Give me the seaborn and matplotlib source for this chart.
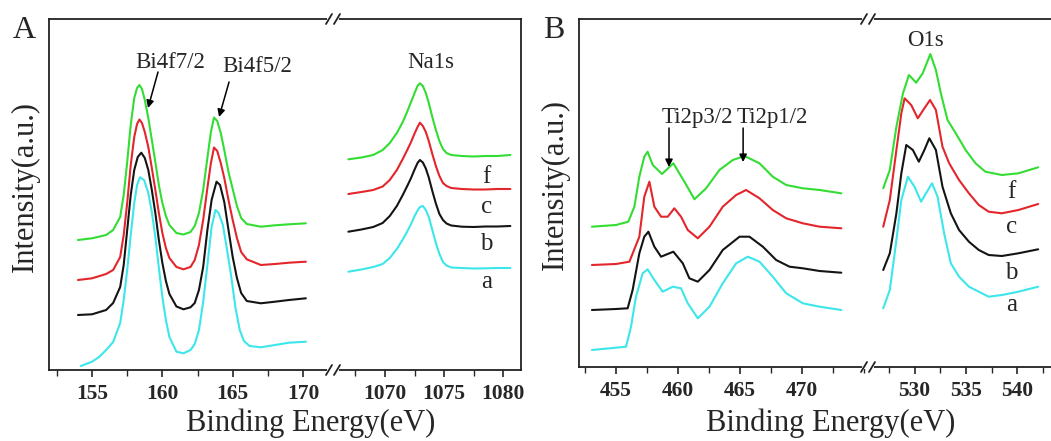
import numpy as np
import pandas as pd
import matplotlib
matplotlib.use('Agg')
import matplotlib.pyplot as plt
import seaborn as sns
from matplotlib.ticker import MultipleLocator
from matplotlib.lines import Line2D

# ---- Panel A, Bi 4f region (eV, intensity a.u.) ----
bi_f_e = [154.0, 155.0, 156.0, 156.5, 157.0, 157.25, 157.5, 157.75, 158.0, 158.2, 158.37, 158.55, 158.75,
          159.0, 159.25, 159.5, 159.75, 160.0, 160.25, 160.5, 161.0, 161.5, 162.0, 162.3, 162.6, 162.9,
          163.2, 163.45, 163.67, 163.9, 164.15, 164.4, 164.7, 165.0, 165.3, 165.6, 166.0, 167.0, 168.0,
          169.0, 170.2]
bi_f_i = [130, 131.7, 135, 140, 153, 175, 208, 245, 272, 282, 285, 281, 270,
          252, 230, 208, 185, 167, 154, 145, 137, 135.5, 138, 144, 157, 180,
          212, 238, 252.5, 249, 237, 220, 198, 181, 164, 152, 146, 143.3, 144.7,
          145.7, 146.7]
bi_c_e = bi_f_e
bi_c_i = [90, 91.7, 96, 100, 113, 135, 167, 205, 233, 246, 250.5, 247, 238,
          223, 202, 180, 157, 137, 122, 112, 103, 100.7, 103, 110, 125, 150,
          182, 207, 222.5, 219, 207, 192, 170, 150, 132, 118, 110.7, 105, 106,
          107.3, 108.3]
bi_b_e = [154.0, 155.0, 156.0, 156.5, 157.0, 157.25, 157.5, 157.75, 158.0, 158.25, 158.5, 158.75, 159.0,
          159.25, 159.5, 159.75, 160.0, 160.25, 160.5, 161.0, 161.5, 162.0, 162.3, 162.6, 162.9, 163.2,
          163.5, 163.85, 164.1, 164.4, 164.7, 165.0, 165.3, 165.6, 166.0, 167.0, 168.0, 169.0, 170.2]
bi_b_i = [55, 55.7, 60, 67, 83, 105, 140, 175, 200, 213, 217.3, 212, 200,
          180, 157, 130, 107, 89, 76, 63.5, 60.7, 62.7, 67, 80, 103, 140,
          170, 188.3, 185, 168, 140, 113, 92, 77, 69, 66.7, 68.3, 70, 71.7]
bi_a_e = [154.2, 155.0, 155.5, 156.0, 156.5, 157.0, 157.25, 157.5, 157.75, 158.0, 158.2, 158.4, 158.7,
          159.0, 159.25, 159.5, 159.75, 160.0, 160.25, 160.5, 161.0, 161.5, 162.0, 162.3, 162.6, 162.9,
          163.2, 163.5, 163.77, 164.0, 164.3, 164.6, 164.9, 165.2, 165.5, 165.8, 166.2, 167.0, 168.0,
          169.0, 170.2]
bi_a_i = [4, 8.3, 13, 20, 28, 47, 70, 100, 135, 167, 185, 192.7, 190,
          177, 158, 133, 102, 73, 50, 33, 18.3, 16.7, 20, 26, 40, 68,
          105, 143, 160, 157, 145, 120, 93, 62, 40, 29, 24, 22.7, 25,
          27.3, 28.3]

# ---- Panel A, Na 1s region ----
na_e = [1066.9, 1068.0, 1069.0, 1069.8, 1070.4, 1071.0, 1071.5, 1071.9, 1072.2, 1072.5, 1072.75, 1072.95,
        1073.2, 1073.45, 1073.7, 1074.0, 1074.3, 1074.6, 1074.9, 1075.2, 1075.6, 1076.5, 1077.5, 1078.5,
        1079.5, 1080.6]
na_f_i = [210.7, 212.5, 215, 220, 227, 237, 248, 259, 268, 277, 284, 286.7,
          284, 277, 267, 253, 240, 229, 221, 217, 215, 214, 213.5, 214,
          214, 215]
na_c_i = [176, 178, 180, 183.5, 190, 200, 211, 220.5, 228, 236.5, 243, 247.3,
          244, 238, 229, 216, 204, 194, 187, 184, 182, 181, 180.5, 180.5,
          181, 181]
na_b_i = [138.3, 140.5, 143, 147, 154, 164, 175, 184.5, 192, 200.5, 207, 210,
          207.5, 201.5, 192.5, 179, 166.5, 156, 150, 146.5, 144.5, 143.3, 143, 143.5,
          143.5, 144]
na_a_i = [98.3, 100.5, 103, 106, 112, 121, 130.5, 139, 146, 154, 159.5, 163,
          164, 160, 153, 140, 127, 116, 108, 104.5, 102.5, 102, 101.5, 101.7,
          102, 102]

# ---- Panel B, Ti 2p region ----
ti_f_e = [453.06, 455.0, 455.99, 456.48, 456.88, 457.28, 457.55, 457.96, 458.71, 459.62, 460.51, 461.32,
          462.26, 463.33, 464.41, 465.35, 466.56, 467.63, 468.71, 470.05, 471.4, 473.15]
ti_f_i = [140.3, 142, 145.3, 160.3, 190.3, 210.3, 215.3, 202, 193, 203.7, 185.3, 167.7,
          178.7, 197, 207, 211, 203.7, 190.3, 182, 178.7, 177, 173.7]
ti_c_e = [453.06, 455.0, 456.08, 456.88, 457.28, 457.69, 458.09, 458.63, 459.17, 459.7, 460.24, 460.78,
          461.59, 462.53, 463.6, 464.68, 465.48, 466.56, 467.63, 468.71, 470.05, 471.4, 473.15]
ti_c_i = [102, 103, 105.3, 130.3, 170.3, 185.3, 160.3, 150.3, 150.3, 158.7, 150.3, 137,
          128.7, 140.3, 160.3, 172, 177, 168.7, 157, 148.7, 143.7, 140.3, 138.7]
ti_b_e = [453.06, 455.0, 455.94, 456.34, 456.88, 457.28, 457.61, 458.09, 458.63, 459.62, 460.38, 460.91,
          461.59, 462.53, 463.6, 464.95, 465.75, 466.83, 467.9, 468.98, 470.05, 471.4, 473.15]
ti_b_i = [57, 58, 58.7, 77, 113.7, 130.3, 135.3, 120.3, 110.3, 115.3, 103.7, 88.7,
          85.3, 97, 117, 130.3, 130.3, 120.3, 107, 100.3, 98.7, 96, 94.3]
ti_a_e = [453.06, 455.0, 455.81, 456.21, 456.61, 457.15, 457.55, 458.09, 458.76, 459.57, 460.24, 460.78,
          461.59, 462.53, 463.6, 464.68, 465.62, 466.56, 467.63, 468.71, 470.05, 471.4, 473.15]
ti_a_i = [17, 19.3, 20.3, 40.3, 70.3, 93.7, 97.7, 87, 75.3, 80.3, 78.7, 63.7,
          48.7, 60.3, 83.7, 103.7, 110.3, 105.3, 90.3, 73.7, 63.7, 60.3, 57]

# ---- Panel B, O 1s region ----
o_f_e = [526.96, 527.6, 528.24, 528.88, 529.46, 530.16, 530.8, 531.54, 532.08, 532.56, 533.21, 534.01,
         534.97, 535.93, 536.89, 538.49, 540.1, 542.02]
o_f_i = [178.7, 197, 240.3, 273.7, 292, 284.3, 293.7, 313, 297, 273.7, 247, 233.7,
         217, 203.7, 195.3, 192, 193.7, 199.7]
o_c_e = [526.96, 527.6, 528.24, 528.72, 529.04, 529.68, 530.32, 530.96, 531.51, 532.08, 532.72, 533.37,
         534.33, 535.29, 536.25, 537.21, 538.49, 540.1, 542.02]
o_c_i = [140.3, 167, 217, 253.7, 268.7, 262, 248.7, 258.7, 267, 257, 220.3, 203.7,
         187, 173.7, 162, 155.3, 153.7, 157, 163]
o_b_e = [526.96, 527.6, 528.24, 528.72, 529.2, 529.84, 530.42, 530.96, 531.44, 532.08, 532.72, 533.53,
         534.33, 535.29, 536.25, 537.21, 538.49, 540.1, 542.02]
o_b_i = [97, 113.7, 153.7, 193.7, 222, 217, 205.3, 217, 228.7, 217, 180.3, 153.7,
         137, 125.3, 117, 112, 111, 113.7, 117.7]
o_a_e = [526.96, 527.6, 528.24, 528.72, 529.36, 530.0, 530.64, 531.12, 531.7, 532.24, 532.88, 533.53,
         534.33, 535.29, 536.25, 537.21, 538.49, 540.1, 542.02]
o_a_i = [58.7, 77, 127, 167, 190.3, 180.3, 165.3, 173.7, 183.7, 170.3, 133.7, 103.7,
         90.3, 80.3, 75.3, 70.3, 72, 75.3, 80.3]

samples = ['a', 'b', 'c', 'f']
sample_colors = {'a': '#3de6ea', 'b': '#141414', 'c': '#e3262b', 'f': '#33dd33'}
ticks_bi = [155, 160, 165, 170]
ticks_na = [1070, 1075, 1080]
ticks_ti = [455, 460, 465, 470]
ticks_o = [530, 535, 540]

W, H = 1051, 441
sns.set_style('ticks')
plt.rcParams['font.family'] = ['Liberation Serif', 'DejaVu Serif']
plt.rcParams['axes.linewidth'] = 1.3

fig = plt.figure(figsize=(W / 100, H / 100), dpi=100)


def box(x0, x1, ytop, ybot):
    return [x0 / W, 1 - ybot / H, (x1 - x0) / W, (ybot - ytop) / H]


def frame(curves):
    parts = [pd.DataFrame({'E': e, 'I': i, 'sample': s}) for s, (e, i) in curves.items()]
    return pd.concat(parts, ignore_index=True)


def draw(ax, df, xlim, ylim, ticks, side):
    sns.lineplot(data=df, x='E', y='I', hue='sample', hue_order=samples, palette=sample_colors,
                 estimator=None, sort=False, legend=False, linewidth=1.5, ax=ax)
    ax.set_xlim(*xlim)
    ax.set_ylim(*ylim)
    ax.set_yticks([])
    ax.set_xticks(ticks)
    ax.set_xticklabels([str(t) for t in ticks], fontweight='bold', fontsize=15.5)
    ax.xaxis.set_minor_locator(MultipleLocator(2.5))
    ax.tick_params(axis='x', which='major', direction='out', length=5, width=1.2, pad=5)
    ax.tick_params(axis='x', which='minor', direction='out', length=4, width=1.0)
    ax.set_xlabel('')
    ax.set_ylabel('')
    ax.spines['right' if side == 'left' else 'left'].set_visible(False)
    for s in ax.spines.values():
        s.set_color('#222222')


def brk(xp, yp):
    # "//" break mark on a spine, in figure pixels
    fig.add_artist(Line2D([(xp - 4) / W, (xp + 4) / W], [1 - yp / H] * 2,
                          transform=fig.transFigure, color='white', lw=3, zorder=5))
    for dx in (-4, 4):
        fig.add_artist(Line2D([(xp + dx - 3) / W, (xp + dx + 3) / W],
                              [1 - (yp + 5) / H, 1 - (yp - 5) / H],
                              transform=fig.transFigure, color='#222222', lw=1.3, zorder=6))


def tx(xp, yp, s, size, **kw):
    fig.text(xp / W, 1 - yp / H, s, ha='center', va='center', fontsize=size, **kw)


# ---- Panel A ----
axA1 = fig.add_axes(box(49, 333, 19, 370))
axA2 = fig.add_axes(box(333, 521, 19, 370))
draw(axA1, frame({'a': (bi_a_e, bi_a_i), 'b': (bi_b_e, bi_b_i), 'c': (bi_c_e, bi_c_i), 'f': (bi_f_e, bi_f_i)}),
     (151.94, 172.13), (0, 351), ticks_bi, 'left')
draw(axA2, frame({'a': (na_e, na_a_i), 'b': (na_e, na_b_i), 'c': (na_e, na_c_i), 'f': (na_e, na_f_i)}),
     (1065.6, 1081.5), (0, 351), ticks_na, 'right')

arrow = dict(arrowstyle='-|>', color='k', lw=1.1, mutation_scale=11, shrinkA=0, shrinkB=0)
axA1.annotate('', xy=(158.98, 262), xytext=(159.69, 298), arrowprops=arrow)
axA1.annotate('', xy=(164.03, 253), xytext=(164.74, 288), arrowprops=arrow)
axA1.text(160.54, 307, 'Bi4f7/2', ha='center', va='center', fontsize=16.5)
axA1.text(166.73, 303, 'Bi4f5/2', ha='center', va='center', fontsize=16.5)
axA2.text(1073.9, 307, 'Na1s', ha='center', va='center', fontsize=16.5)
for lab, h in zip(['f', 'c', 'b', 'a'], [193, 163, 126, 88]):
    axA2.text(1078.6, h, lab, ha='center', va='center', fontsize=18)

# ---- Panel B ----
axB1 = fig.add_axes(box(579, 868, 19, 367))
axB2 = fig.add_axes(box(868, 1054, 19, 367))
draw(axB1, frame({'a': (ti_a_e, ti_a_i), 'b': (ti_b_e, ti_b_i), 'c': (ti_c_e, ti_c_i), 'f': (ti_f_e, ti_f_i)}),
     (452.02, 475.3), (0, 348), ticks_ti, 'left')
draw(axB2, frame({'a': (o_a_e, o_a_i), 'b': (o_b_e, o_b_i), 'c': (o_c_e, o_c_i), 'f': (o_f_e, o_f_i)}),
     (525.48, 543.56), (0, 348), ticks_o, 'right')

axB1.annotate('', xy=(459.27, 200), xytext=(459.27, 239), arrowprops=arrow)
axB1.annotate('', xy=(465.24, 205), xytext=(465.24, 239), arrowprops=arrow)
axB1.text(461.53, 249, 'Ti2p3/2', ha='center', va='center', fontsize=16.5)
axB1.text(467.58, 249, 'Ti2p1/2', ha='center', va='center', fontsize=16.5)
axB2.text(531.06, 326, 'O1s', ha='center', va='center', fontsize=16.5)
for lab, h in zip(['f', 'c', 'b', 'a'], [175, 140, 94, 62]):
    axB2.text(539.4, h, lab, ha='center', va='center', fontsize=18)

# breaks, axis titles, panel letters
for xp, yb in [(333, 370), (868, 367)]:
    brk(xp, 19)
    brk(xp, yb)

tx(311, 423, 'Binding Energy(eV)', 22)
tx(831, 423, 'Binding Energy(eV)', 22)
tx(25, 187, 'Intensity(a.u.)', 22, rotation=90)
tx(555, 185, 'Intensity(a.u.)', 22, rotation=90)
tx(24, 31, 'A', 23)
tx(554, 31, 'B', 23)

fig.savefig('out.png', dpi=100)
